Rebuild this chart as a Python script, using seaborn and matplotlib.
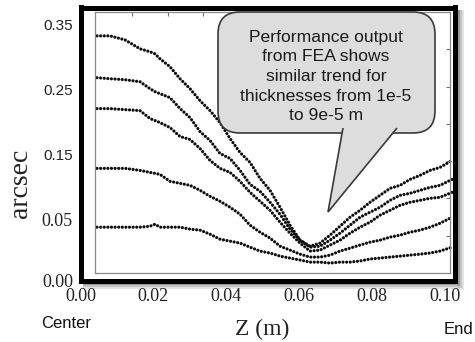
import numpy as np
import pandas as pd
import matplotlib
matplotlib.use("Agg")
import matplotlib.pyplot as plt
import matplotlib.transforms as mtransforms
from matplotlib.patches import FancyBboxPatch, PathPatch, Rectangle
from matplotlib.path import Path
import seaborn as sns

# ---------------- data ----------------
z_m = [0.00453, 0.00809, 0.01221, 0.01632, 0.01907, 0.02044, 0.02181, 0.02455,
       0.02730, 0.03004, 0.03278, 0.03553, 0.03827, 0.04102, 0.04376, 0.04650,
       0.04925, 0.05199, 0.05473, 0.05748, 0.06022, 0.06296, 0.06571, 0.06845,
       0.07119, 0.07394, 0.07668, 0.07942, 0.08217, 0.08491, 0.08766, 0.09040,
       0.09314, 0.09588, 0.09863, 0.10192]

arcsec_t1 = [0.3331, 0.3331, 0.3269, 0.3131, 0.3085, 0.3054, 0.2977, 0.2854, 0.2669, 0.2515,
             0.2331, 0.2177, 0.1992, 0.1746, 0.1531, 0.1377, 0.1131, 0.0946, 0.0685, 0.0451,
             0.0329, 0.0280, 0.0305, 0.0370, 0.0443, 0.0531, 0.0638, 0.0762, 0.0869, 0.0977,
             0.1023, 0.1115, 0.1177, 0.1254, 0.1300, 0.1408]
arcsec_t2 = [0.2685, 0.2669, 0.2654, 0.2623, 0.2515, 0.2469, 0.2438, 0.2377, 0.2208, 0.2069,
             0.1854, 0.1715, 0.1515, 0.1438, 0.1254, 0.1038, 0.0931, 0.0762, 0.0577, 0.0419,
             0.0329, 0.0272, 0.0280, 0.0329, 0.0386, 0.0451, 0.0531, 0.0608, 0.0685, 0.0792,
             0.0869, 0.0900, 0.0946, 0.0992, 0.1023, 0.1115]
arcsec_t3 = [0.2208, 0.2208, 0.2192, 0.2177, 0.2054, 0.2023, 0.1992, 0.1915, 0.1777, 0.1731,
             0.1592, 0.1408, 0.1285, 0.1223, 0.1085, 0.0915, 0.0777, 0.0638, 0.0476, 0.0386,
             0.0305, 0.0240, 0.0248, 0.0289, 0.0329, 0.0386, 0.0435, 0.0476, 0.0562, 0.0638,
             0.0715, 0.0762, 0.0792, 0.0823, 0.0838, 0.0915]
arcsec_t4 = [0.1285, 0.1285, 0.1285, 0.1254, 0.1223, 0.1208, 0.1192, 0.1085, 0.1054, 0.1023,
             0.0946, 0.0854, 0.0777, 0.0685, 0.0577, 0.0451, 0.0394, 0.0346, 0.0280, 0.0248,
             0.0215, 0.0191, 0.0191, 0.0207, 0.0240, 0.0264, 0.0289, 0.0313, 0.0329, 0.0354,
             0.0370, 0.0394, 0.0411, 0.0435, 0.0467, 0.0531]
arcsec_t5 = [0.0435, 0.0435, 0.0435, 0.0435, 0.0443, 0.0459, 0.0435, 0.0435, 0.0435, 0.0419,
             0.0411, 0.0378, 0.0337, 0.0321, 0.0305, 0.0272, 0.0240, 0.0224, 0.0199, 0.0183,
             0.0167, 0.0150, 0.0150, 0.0142, 0.0150, 0.0150, 0.0159, 0.0175, 0.0183, 0.0191,
             0.0199, 0.0207, 0.0215, 0.0224, 0.0240, 0.0272]

series_names = ["t1", "t2", "t3", "t4", "t5"]
series_values = [arcsec_t1, arcsec_t2, arcsec_t3, arcsec_t4, arcsec_t5]

x_ticks = [0.00, 0.02, 0.04, 0.06, 0.08, 0.10]
x_tick_labels = ["0.00", "0.02", "0.04", "0.06", "0.08", "0.10"]
y_ticks = [0.00, 0.05, 0.15, 0.25, 0.35]
y_tick_labels = ["0.00", "0.05", "0.15", "0.25", "0.35"]

callout_text = ("Performance output\nfrom FEA shows\nsimilar trend for\n"
                "thicknesses from 1e-5\nto 9e-5 m")

# ---------------- figure ----------------
sns.set_style("white")
plt.rcParams["font.family"] = ["Liberation Sans", "DejaVu Sans"]

W, H = 475, 342
fig = plt.figure(figsize=(W / 100, H / 100), dpi=100)
fig.patch.set_facecolor("white")
# pixel (top-left origin) -> figure transform for decorations
px = mtransforms.Affine2D().scale(1 / W, -1 / H).translate(0, 1) + fig.transFigure


def rect_px(l, t, r, b):
    return [l / W, 1 - b / H, (r - l) / W, (b - t) / H]


# frame shadow (outside the thick frame)
for off, col in [(6, "#e2e2e2"), (4, "#c4c4c4"), (2, "#9a9a9a")]:
    fig.add_artist(Rectangle((457, 10), off + 1, 274 + off, transform=px,
                             facecolor=col, edgecolor="none", zorder=0.5))
    fig.add_artist(Rectangle((83, 283), 375 + off, off, transform=px,
                             facecolor=col, edgecolor="none", zorder=0.5))

# main (data) axes with the thick black frame
ax = fig.add_axes(rect_px(80.5, 7.5, 454.5, 280.5), zorder=1)
ax.set_facecolor("white")

# piecewise-linear y scale (reference axis is compressed below 0.05)
LOW_RATIO = 1230 / 650


def fwd(y):
    y = np.asarray(y, dtype=float)
    return np.where(y >= 0.05, y, 0.05 - (0.05 - y) * LOW_RATIO)


def inv(f):
    f = np.asarray(f, dtype=float)
    return np.where(f >= 0.05, f, 0.05 - (0.05 - f) / LOW_RATIO)


ax.set_yscale("function", functions=(fwd, inv))

df = pd.DataFrame({
    "z": np.tile(z_m, len(series_names)),
    "arcsec": np.concatenate(series_values),
    "series": np.repeat(series_names, len(z_m)),
})
for name in series_names:
    sns.lineplot(data=df[df["series"] == name], x="z", y="arcsec", ax=ax,
                 color="#0d0d0d", sort=False, estimator=None,
                 linewidth=2.3, linestyle=(0, (0.01, 1.12)),
                 dash_capstyle="round", solid_capstyle="round")

ax.set_xlim(0, 0.1026)
ax.set_ylim(0, 0.3769)
ax.set_xticks(x_ticks, labels=x_tick_labels)
ax.set_yticks(y_ticks, labels=y_tick_labels)
ax.tick_params(axis="both", length=0, pad=5.4, colors="#222222")
for lbl in ax.get_xticklabels():
    lbl.set_fontfamily("Liberation Serif")
    lbl.set_fontsize(13)
for lbl in ax.get_yticklabels():
    if lbl.get_text() in ("0.00", "0.05"):
        lbl.set_fontfamily("Liberation Serif")
        lbl.set_fontsize(13)
    else:
        lbl.set_fontfamily("Liberation Sans")
        lbl.set_fontsize(11)
ax.set_xlabel("")
ax.set_ylabel("")
for s in ax.spines.values():
    s.set_visible(True)
    s.set_color("black")
    s.set_linewidth(3.6)

# inner thin gray frame with inward ticks (decorative, no labels)
ax_in = fig.add_axes(rect_px(95, 12, 450, 273), zorder=2)
ax_in.set_facecolor("none")
ax_in.set_xlim(-0.04, 9.93)
ax_in.set_ylim(0, 7)
ax_in.set_xticks(range(1, 10))
ax_in.set_yticks(range(1, 7))
ax_in.tick_params(axis="both", direction="in", length=3, width=0.8,
                  color="#707070", top=True, right=True,
                  labelbottom=False, labelleft=False)
for s in ax_in.spines.values():
    s.set_visible(True)
    s.set_color("#8a8a8a")
    s.set_linewidth(0.9)

# axis titles and side notes
fig.text(20 / W, 1 - 183 / H, "arcsec", rotation=90, ha="center", va="center",
         family="Liberation Serif", fontsize=20, color="#222222")
fig.text(262 / W, 1 - 329 / H, "Z (m)", ha="center", va="center",
         family="Liberation Serif", fontsize=17, color="#222222")
fig.text(66 / W, 1 - 323 / H, "Center", ha="center", va="center",
         family="Liberation Sans", fontsize=12, color="#111111")
fig.text(473 / W, 1 - 329 / H, "End", ha="right", va="center",
         family="Liberation Sans", fontsize=12, color="#111111")

# speech-bubble callout
fill_c, edge_c = "#dddddd", "#3a3a3a"
box = FancyBboxPatch((218, 12), 217, 121, boxstyle="round,pad=0,rounding_size=22",
                     transform=px, facecolor=fill_c, edgecolor=edge_c,
                     linewidth=1.2, zorder=5)
fig.add_artist(box)
ptr = Path([(343, 128), (328, 212), (397, 128)],
           [Path.MOVETO, Path.LINETO, Path.LINETO])
fig.add_artist(PathPatch(ptr, transform=px, facecolor=fill_c, edgecolor=edge_c,
                         linewidth=1.2, zorder=6))
fig.text(326 / W, 1 - 76.5 / H, callout_text, ha="center", va="center",
         family="Liberation Sans", fontsize=12.6, color="#1a1a1a",
         linespacing=1.38, zorder=7)

fig.savefig("out.png", dpi=100)
